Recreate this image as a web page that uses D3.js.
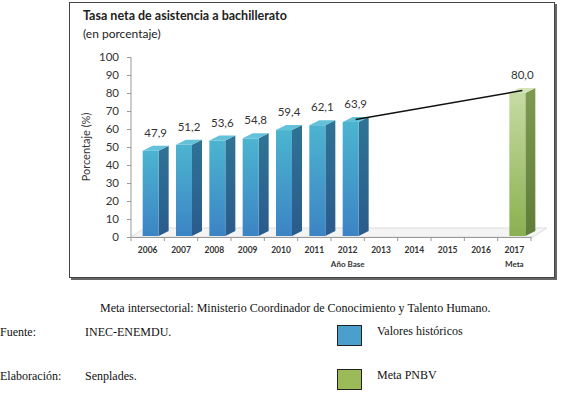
<!DOCTYPE html>
<html><head><meta charset="utf-8">
<script src="https://cdn.jsdelivr.net/npm/d3@7"></script>
<style>body{margin:0;background:#fff}svg{display:block}</style>
</head><body>
<script>
const years = ["2006","2007","2008","2009","2010","2011","2012","2013","2014","2015","2016","2017"];
const subLabels = {"2012":"Año Base","2017":"Meta"};
const historicYears = ["2006","2007","2008","2009","2010","2011","2012"];
const historicValues = [47.9,51.2,53.6,54.8,59.4,62.1,63.9];
const goalYears = ["2017"];
const goalValues = [80.0];
const yTicks = [0,10,20,30,40,50,60,70,80,90,100];
const title = "Tasa neta de asistencia a bachillerato";
const subtitle = "(en porcentaje)";
const yTitle = "Porcentaje (%)";
const legendItems = ["Valores históricos","Meta PNBV"];

const W=567,H=397;
const svg=d3.select("body").append("svg").attr("width",W).attr("height",H);
const defs=svg.append("defs");
function grad(id,c1,c2){const g=defs.append("linearGradient").attr("id",id).attr("x1",0).attr("y1",0).attr("x2",0).attr("y2",1);
 g.append("stop").attr("offset","0%").attr("stop-color",c1);g.append("stop").attr("offset","100%").attr("stop-color",c2);}
grad("bFront","#4cb4d0","#3c84c4");grad("bSide","#2f7395","#2a5b8c");
grad("gFront","#c6dba3","#8bb04f");grad("gSide","#7e9a52","#5f7d38");

// chart box
svg.append("rect").attr("x",71).attr("y",4).attr("width",486).attr("height",276).attr("fill","#666");
svg.append("rect").attr("x",69.5).attr("y",2.5).attr("width",485).attr("height",275).attr("fill","#fff").attr("stroke","#444").attr("stroke-width",1);

const font="Lato, 'Open Sans', sans-serif";
svg.append("text").attr("x",83).attr("y",20).attr("font-family",font).attr("font-weight","bold").attr("font-size",12.5).attr("fill","#222").text(title);
svg.append("text").attr("x",83).attr("y",38).attr("font-family",font).attr("font-size",12).attr("fill","#222").text(subtitle);

const x=d3.scaleBand().domain(years).range([131,531]).padding(0);
const y=d3.scaleLinear().domain([0,100]).range([237,57]);
const dx=10,dy=5,fw=16;
const cx=d=>x(d)+x.bandwidth()/2;

// floor
const fdx=14,fdy=9;
svg.append("path").attr("d",`M131,237 L533,237 L${533+fdx},${237-fdy} L${131+fdx},${237-fdy} Z`).attr("fill","#f4f4f4").attr("stroke","#ddd");
// y axis
svg.append("line").attr("x1",131).attr("x2",131).attr("y1",y(100)).attr("y2",y(0)).attr("stroke","#999");
const yAx=svg.append("g").attr("transform","translate(131,0)").call(d3.axisLeft(y).tickValues(yTicks).tickSize(4).tickPadding(8));
yAx.select(".domain").remove();
yAx.selectAll("line").attr("stroke","#999");
yAx.selectAll("text").attr("font-family",font).attr("font-size",11.5).attr("fill","#333");
svg.append("text").attr("transform",`translate(90,${y(50)}) rotate(-90)`).attr("text-anchor","middle").attr("font-family",font).attr("font-size",11).attr("fill","#333").text(yTitle);

// x axis
const xAx=svg.append("g").attr("transform","translate(0,237)").call(d3.axisBottom(x).tickSize(0).tickPadding(10));
xAx.select(".domain").attr("stroke","#999");
xAx.selectAll("text").attr("font-family",font).attr("font-weight","bold").attr("font-size",8.5).attr("fill","#333");
svg.append("g").selectAll("line").data(years.concat(["end"])).join("line")
 .attr("x1",(d,i)=>131+i*x.step()).attr("x2",(d,i)=>131+i*x.step()).attr("y1",237).attr("y2",241).attr("stroke","#999");
svg.append("g").selectAll("text").data(Object.keys(subLabels)).join("text")
 .attr("x",d=>cx(d)).attr("y",267).attr("text-anchor","middle").attr("font-family",font).attr("font-weight","bold").attr("font-size",8).attr("fill","#333").text(d=>subLabels[d]);

function bars(yrs,vals,front,side,top,cls){
 const data=yrs.map((d,i)=>({k:d,v:vals[i]}));
 const g=svg.append("g");
 const bx=d=>cx(d.k)-5;
 g.selectAll("path.side").data(data).join("path").attr("d",d=>{const x0=bx(d)+fw,yt=y(d.v),yb=y(0)-1;return `M${x0},${yt} L${x0+dx},${yt-dy} L${x0+dx},${yb-dy} L${x0},${yb} Z`;}).attr("fill",`url(#${side})`);
 g.selectAll("path.top").data(data).join("path").attr("d",d=>{const x0=bx(d),yt=y(d.v);return `M${x0},${yt} L${x0+dx},${yt-dy} L${x0+fw+dx},${yt-dy} L${x0+fw},${yt} Z`;}).attr("fill",top);
 g.selectAll("rect").data(data).join("rect").attr("x",bx).attr("y",d=>y(d.v)).attr("width",fw).attr("height",d=>y(0)-1-y(d.v)).attr("fill",`url(#${front})`);
 g.selectAll("text").data(data).join("text").attr("x",d=>bx(d)+(fw+dx)/2).attr("y",d=>y(d.v)-14).attr("text-anchor","middle")
  .attr("font-family",font).attr("font-size",11.5).attr("fill","#333").text(d=>d.v.toFixed(1).replace(".",","));
}
bars(historicYears,historicValues,"bFront","bSide","#63c1da");
bars(goalYears,goalValues,"gFront","gSide","#d4e4b6");

// trend line from base year to goal
const lastH=historicYears[historicYears.length-1];
svg.append("line").attr("x1",cx(lastH)-5+fw/2+dx/2).attr("y1",y(historicValues[historicValues.length-1])-dy/2)
 .attr("x2",cx(goalYears[0])-5+fw/2+dx/2).attr("y2",y(goalValues[0])-dy/2).attr("stroke","#111").attr("stroke-width",1.5);

// notes & legend
const serif="'Liberation Serif','Times New Roman',serif";
svg.append("text").attr("x",100).attr("y",312).attr("font-family",serif).attr("font-size",12).attr("fill","#111").text("Meta intersectorial: Ministerio Coordinador de Conocimiento y Talento Humano.");
svg.append("text").attr("x",0).attr("y",336).attr("font-family",serif).attr("font-size",12).attr("fill","#111").text("Fuente:");
svg.append("text").attr("x",85).attr("y",336).attr("font-family",serif).attr("font-size",12).attr("fill","#111").text("INEC-ENEMDU.");
svg.append("text").attr("x",0).attr("y",380).attr("font-family",serif).attr("font-size",12).attr("fill","#111").text("Elaboración:");
svg.append("text").attr("x",85).attr("y",380).attr("font-family",serif).attr("font-size",12).attr("fill","#111").text("Senplades.");
const lg=svg.append("g").selectAll("g").data(legendItems).join("g").attr("transform",(d,i)=>`translate(0,${i*44})`);
lg.append("rect").attr("x",337.5).attr("y",325.5).attr("width",24).attr("height",20).attr("fill",(d,i)=>i?"#9bbb59":"#4a9fcc").attr("stroke","#222").attr("stroke-width",1);
lg.append("text").attr("x",377).attr("y",335).attr("font-family",serif).attr("font-size",12).attr("fill","#111").text(d=>d);
</script>
</body></html>
